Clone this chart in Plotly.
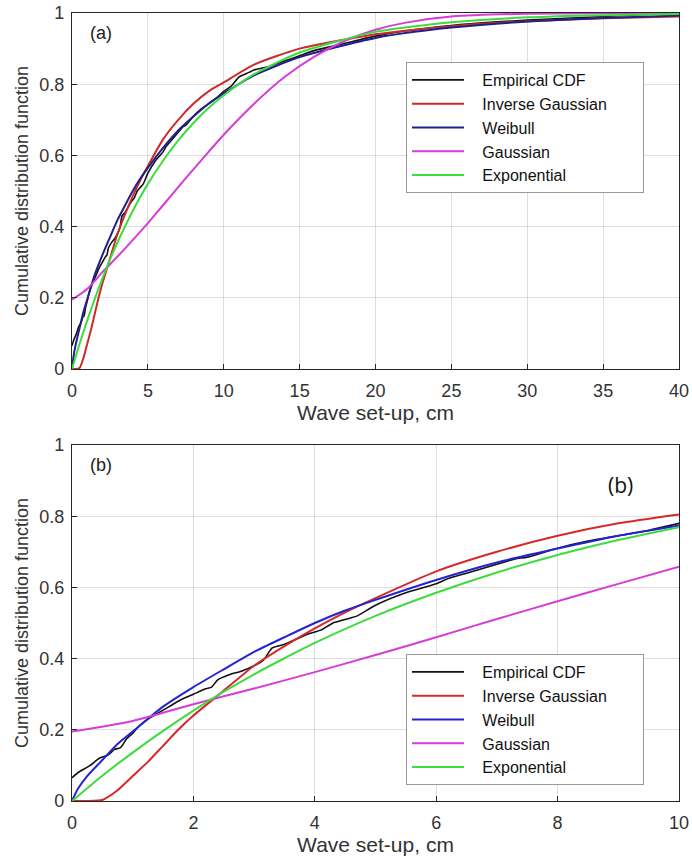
import plotly.graph_objects as go

# ---------------- data ----------------
emp_x = [0, 0.1, 0.2, 0.3, 0.45, 0.6, 0.7, 0.8, 0.9, 1.0, 1.1, 1.25, 1.4, 1.6, 1.8, 2.0,
         2.2, 2.3, 2.4, 2.6, 2.8, 3.0, 3.15, 3.3, 3.5, 3.7, 3.9, 4.1, 4.3, 4.5, 4.7, 5.0,
         5.5, 6.0, 6.2, 6.5, 7.0, 7.3, 7.5, 8.0, 8.5, 9.0, 9.5, 10.0, 10.5, 11.0, 11.5,
         12.0, 13, 14, 15, 16, 17, 18, 20, 22, 25, 28, 30, 35, 40]
emp_y = [0.065, 0.08, 0.09, 0.10, 0.12, 0.13, 0.145, 0.15, 0.175, 0.19, 0.21, 0.23, 0.245,
         0.265, 0.285, 0.30, 0.315, 0.32, 0.34, 0.355, 0.365, 0.38, 0.395, 0.43, 0.44, 0.455,
         0.47, 0.48, 0.50, 0.51, 0.52, 0.55, 0.585, 0.61, 0.625, 0.64, 0.665, 0.68, 0.685,
         0.71, 0.73, 0.745, 0.76, 0.78, 0.795, 0.82, 0.83, 0.84, 0.85, 0.865, 0.88, 0.895,
         0.905, 0.915, 0.935, 0.95, 0.965, 0.975, 0.98, 0.99, 1.0]

ig_x = [0, 0.25, 0.5, 0.75, 1, 1.25, 1.5, 1.75, 2, 2.5, 3, 3.5, 4, 4.5, 5, 6, 7, 8, 9, 10,
        12, 15, 20, 25, 30, 35, 40]
ig_y = [0, 0, 0.003, 0.03, 0.07, 0.11, 0.155, 0.20, 0.24, 0.31, 0.38, 0.435, 0.485, 0.53,
        0.57, 0.645, 0.70, 0.745, 0.78, 0.805, 0.855, 0.90, 0.94, 0.963, 0.977, 0.985, 0.99]

wb_x = [0, 0.1, 0.25, 0.5, 0.75, 1, 1.5, 2, 2.5, 3, 3.5, 4, 4.5, 5, 6, 7, 8, 9, 10, 12, 15,
        20, 25, 30, 35, 40]
wb_y = [0, 0.035, 0.07, 0.115, 0.16, 0.195, 0.265, 0.32, 0.37, 0.419, 0.46, 0.50, 0.535,
        0.565, 0.621, 0.67, 0.709, 0.745, 0.774, 0.825, 0.876, 0.93, 0.959, 0.976, 0.986, 0.993]

ga_x = [0, 1, 2, 3, 4, 5, 6, 7, 8, 9, 10, 12, 14, 16, 18, 20, 22, 25, 30, 40]
ga_y = [0.195, 0.225, 0.272, 0.316, 0.362, 0.41, 0.46, 0.511, 0.561, 0.61, 0.658, 0.745,
        0.82, 0.878, 0.922, 0.953, 0.973, 0.99, 0.998, 1.0]

ex_x = [0, 0.5, 1, 1.5, 2, 2.5, 3, 3.5, 4, 5, 6, 7, 8, 9, 10, 12, 15, 20, 25, 30, 35, 40]
ex_y = [0, 0.071, 0.136, 0.197, 0.254, 0.307, 0.356, 0.401, 0.444, 0.52, 0.585, 0.642,
        0.691, 0.733, 0.769, 0.828, 0.889, 0.947, 0.974, 0.988, 0.994, 0.997]

names = ["Empirical CDF", "Inverse Gaussian", "Weibull", "Gaussian", "Exponential"]
y_ticks = [0, 0.2, 0.4, 0.6, 0.8, 1]
y_tick_text = ["0", "0.2", "0.4", "0.6", "0.8", "1"]
xa_ticks = [0, 5, 10, 15, 20, 25, 30, 35, 40]
xb_ticks = [0, 2, 4, 6, 8, 10]

# ---------------- styling ----------------
FONT = "Liberation Sans, Arial, sans-serif"
cols_a = ["#111111", "#cc2a2a", "#20208c", "#d63cd6", "#3ddc3d"]
cols_b = ["#111111", "#d42a2a", "#2424d0", "#d63cd6", "#3ddc3d"]
widths = [1.6, 2, 2, 2, 2]
LPAD = "\u00a0" * 3   # gap between legend line and text
RPAD = "\u00a0" * 7   # trailing padding inside legend box

series = [(emp_x, emp_y), (ig_x, ig_y), (wb_x, wb_y), (ga_x, ga_y), (ex_x, ex_y)]

fig = go.Figure()
for i, (xs, ys) in enumerate(series):
    fig.add_trace(go.Scatter(x=xs, y=ys, mode="lines", name=LPAD + names[i] + RPAD,
                             line=dict(color=cols_a[i], width=widths[i], shape="spline", smoothing=0.6),
                             xaxis="x", yaxis="y", legend="legend"))
for i, (xs, ys) in enumerate(series):
    xb = [v for v in xs if v <= 10.5]
    yb = [ys[k] for k, v in enumerate(xs) if v <= 10.5]
    fig.add_trace(go.Scatter(x=xb, y=yb, mode="lines", name=LPAD + names[i] + RPAD,
                             line=dict(color=cols_b[i], width=widths[i], shape="spline", smoothing=0.6),
                             xaxis="x2", yaxis="y2", legend="legend2"))

W, H = 692, 858
ml, mr, mt, mb = 72, 13, 13, 57
ph = H - mt - mb

def dom(top_px, bot_px):
    return [1 - (bot_px - mt) / ph, 1 - (top_px - mt) / ph]

axis_common = dict(
    automargin=False,
    showline=True, linecolor="#262626", linewidth=1.2, mirror=True,
    ticks="inside", ticklen=5, tickcolor="#262626", tickwidth=1,
    showgrid=True, gridcolor="rgba(0,0,0,0.13)", gridwidth=1,
    zeroline=False, tickfont=dict(family=FONT, size=18, color="#333333"),
)
xt_font = dict(family=FONT, size=21, color="#333333")
yt_font = dict(family=FONT, size=18, color="#333333")

leg_common = dict(xanchor="left", yanchor="top", bgcolor="white", bordercolor="#999999",
                  borderwidth=1, font=dict(family=FONT, size=16, color="#111111"),
                  tracegroupgap=0, itemwidth=52)

fig.update_layout(
    width=W, height=H,
    margin=dict(l=ml, r=mr, t=mt, b=mb, autoexpand=False),
    paper_bgcolor="white", plot_bgcolor="white",
    showlegend=True,
    xaxis=dict(domain=[0, 1], range=[0, 40], tickvals=xa_ticks, anchor="y",
               title=dict(text="Wave set-up, cm", standoff=4, font=xt_font), ticklabelstandoff=5,
               **axis_common),
    yaxis=dict(domain=dom(13, 369), range=[0, 1], tickvals=y_ticks, ticktext=y_tick_text, anchor="x",
               title=dict(text="Cumulative distribution function", standoff=5, font=yt_font),
               ticklabelstandoff=3, **axis_common),
    xaxis2=dict(domain=[0, 1], range=[0, 10], tickvals=xb_ticks, anchor="y2",
                title=dict(text="Wave set-up, cm", standoff=4, font=xt_font), ticklabelstandoff=5,
                **axis_common),
    yaxis2=dict(domain=dom(445, 801), range=[0, 1], tickvals=y_ticks, ticktext=y_tick_text, anchor="x2",
                title=dict(text="Cumulative distribution function", standoff=5, font=yt_font),
                ticklabelstandoff=3, **axis_common),
    legend=dict(x=(406 - ml) / 607, y=1 - (62 - mt) / ph, **leg_common),
    legend2=dict(x=(406 - ml) / 607, y=1 - (654 - mt) / ph, **leg_common),
    annotations=[
        dict(text="(a)", xref="x domain", yref="y domain", x=0.026, y=0.944, xanchor="left",
             yanchor="middle", showarrow=False, font=dict(family=FONT, size=18, color="#222222")),
        dict(text="(b)", xref="x2 domain", yref="y2 domain", x=0.026, y=0.944, xanchor="left",
             yanchor="middle", showarrow=False, font=dict(family=FONT, size=18, color="#222222")),
        dict(text="(b)", xref="x2 domain", yref="y2 domain", x=0.903, y=0.888, xanchor="center",
             yanchor="middle", showarrow=False,
             font=dict(family="Open Sans, Noto Sans, sans-serif", size=21, color="#111111")),
    ],
)

fig.write_html("out.html", config={"displayModeBar": False},
               post_script="document.body.style.margin='0';document.body.style.overflow='hidden';")
